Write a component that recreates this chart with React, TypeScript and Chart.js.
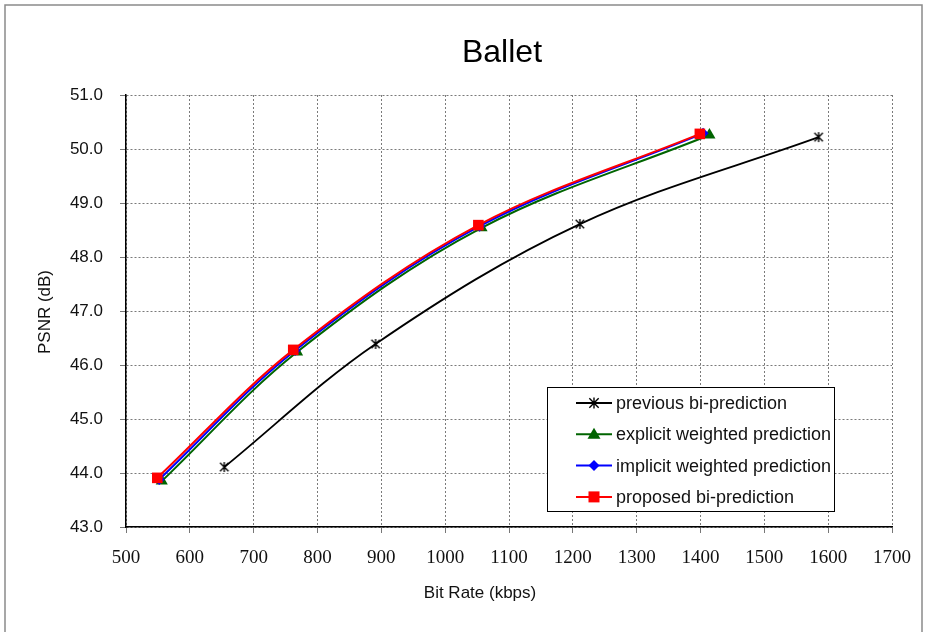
import React, { useEffect, useRef } from "react";
import { Chart, registerables } from "chart.js";

Chart.register(...registerables);

const titleText = "Ballet";
const xTitle = "Bit Rate (kbps)";
const yTitle = "PSNR (dB)";
const xMin = 500;
const xMax = 1700;
const xStep = 100;
const yMin = 43;
const yMax = 51;
const yStep = 1;

const seriesNames = [
  "previous bi-prediction",
  "explicit weighted prediction",
  "implicit weighted prediction",
  "proposed bi-prediction",
];

const previousX = [654, 891, 1211, 1585];
const previousY = [44.11, 46.39, 48.61, 50.22];
const explicitX = [556, 768, 1057, 1414];
const explicitY = [43.85, 46.24, 48.54, 50.26];
const implicitX = [552, 765, 1054, 1404];
const implicitY = [43.88, 46.27, 48.57, 50.29];
const proposedX = [549, 762, 1052, 1399];
const proposedY = [43.91, 46.28, 48.59, 50.28];

const colors = ["#000000", "#006400", "#0000ff", "#ff0000"];
const SANS = "'Liberation Sans', Arial, Helvetica, sans-serif";
const SERIF = "'Liberation Serif', 'Times New Roman', serif";

function makeAsterisk(size: number) {
  const c = document.createElement("canvas");
  c.width = size;
  c.height = size;
  const g = c.getContext("2d")!;
  drawAsterisk(g, size / 2, size / 2, size / 2 - 1);
  return c;
}

function drawAsterisk(g: CanvasRenderingContext2D, x: number, y: number, r: number) {
  g.save();
  g.strokeStyle = "#000";
  g.lineWidth = 1.4;
  const d = r * 0.85;
  g.beginPath();
  g.moveTo(x - d, y - d);
  g.lineTo(x + d, y + d);
  g.moveTo(x + d, y - d);
  g.lineTo(x - d, y + d);
  g.moveTo(x, y - r);
  g.lineTo(x, y + r);
  g.stroke();
  g.restore();
}

function drawMarker(g: CanvasRenderingContext2D, i: number, x: number, y: number) {
  g.save();
  g.fillStyle = colors[i];
  if (i === 0) {
    drawAsterisk(g, x, y, 5.5);
  } else if (i === 1) {
    g.beginPath();
    g.moveTo(x, y - 6.5);
    g.lineTo(x + 6.5, y + 4.5);
    g.lineTo(x - 6.5, y + 4.5);
    g.closePath();
    g.fill();
  } else if (i === 2) {
    g.beginPath();
    g.moveTo(x, y - 5.5);
    g.lineTo(x + 5.5, y);
    g.lineTo(x, y + 5.5);
    g.lineTo(x - 5.5, y);
    g.closePath();
    g.fill();
  } else {
    g.fillRect(x - 5.5, y - 5.5, 11, 11);
  }
  g.restore();
}

const decorPlugin = {
  id: "decor",
  afterDraw(chart: any) {
    const g: CanvasRenderingContext2D = chart.ctx;
    g.save();
    // outer frame
    g.strokeStyle = "#8a8a8a";
    g.lineWidth = 1.5;
    g.strokeRect(5, 5, 917, 640);

    // title
    g.fillStyle = "#000";
    g.font = `32px ${SANS}`;
    g.textAlign = "center";
    g.textBaseline = "alphabetic";
    g.fillText(titleText, 502, 62);

    // axis titles
    g.font = `17px ${SANS}`;
    g.textBaseline = "middle";
    g.fillStyle = "#111";
    g.fillText(xTitle, 480, 593);
    g.save();
    g.translate(45, 312);
    g.rotate(-Math.PI / 2);
    g.fillText(yTitle, 0, 0);
    g.restore();

    // legend
    const lx = 547.5, ly = 387.5, lw = 287, lh = 124;
    g.fillStyle = "#fff";
    g.fillRect(lx, ly, lw, lh);
    g.strokeStyle = "#000";
    g.lineWidth = 1;
    g.strokeRect(lx, ly, lw, lh);
    g.font = `18px ${SANS}`;
    g.textAlign = "left";
    g.textBaseline = "middle";
    for (let i = 0; i < seriesNames.length; i++) {
      const y = 403 + i * 31.3;
      g.strokeStyle = colors[i];
      g.lineWidth = 2;
      g.beginPath();
      g.moveTo(576, y);
      g.lineTo(612, y);
      g.stroke();
      drawMarker(g, i, 594, y);
      g.fillStyle = "#111";
      g.fillText(seriesNames[i], 616, y + 1);
    }
    g.restore();
  },
};

export default function App() {
  const ref = useRef<HTMLCanvasElement>(null);

  useEffect(() => {
    if (!ref.current) return;
    const asterisk = makeAsterisk(12);
    const mk = (xs: number[], ys: number[]) => xs.map((x, i) => ({ x, y: ys[i] }));
    const chart = new Chart(ref.current, {
      type: "line",
      data: {
        datasets: [
          {
            label: seriesNames[0],
            data: mk(previousX, previousY),
            borderColor: colors[0],
            backgroundColor: colors[0],
            borderWidth: 1.8,
            pointStyle: asterisk as any,
            pointRadius: 6,
            tension: 0.35,
            order: 3,
          },
          {
            label: seriesNames[1],
            data: mk(explicitX, explicitY),
            borderColor: colors[1],
            backgroundColor: colors[1],
            borderWidth: 2,
            pointStyle: "triangle",
            pointRadius: 7,
            pointBorderWidth: 0,
            tension: 0.35,
            order: 2,
          },
          {
            label: seriesNames[2],
            data: mk(implicitX, implicitY),
            borderColor: colors[2],
            backgroundColor: colors[2],
            borderWidth: 2,
            pointStyle: "rectRot",
            pointRadius: 5.5,
            pointBorderWidth: 0,
            tension: 0.35,
            order: 1,
          },
          {
            label: seriesNames[3],
            data: mk(proposedX, proposedY),
            borderColor: colors[3],
            backgroundColor: colors[3],
            borderWidth: 2,
            pointStyle: "rect",
            pointRadius: 7.5,
            pointBorderWidth: 0,
            tension: 0.35,
            order: 0,
          },
        ],
      },
      options: {
        responsive: false,
        animation: false,
        devicePixelRatio: 1,
        layout: { padding: { left: 0, right: 33, top: 95, bottom: 0 } },
        plugins: {
          legend: { display: false },
          title: { display: false },
          tooltip: { enabled: false },
        },
        scales: {
          x: {
            type: "linear",
            min: xMin,
            max: xMax,
            afterFit: (s: any) => {
              s.height = 105;
            },
            ticks: {
              stepSize: xStep,
              autoSkip: false,
              maxRotation: 0,
              color: "#111",
              padding: 14,
              font: { family: SERIF, size: 19 },
              callback: (v: any) => String(v),
            },
            grid: { color: "#7a7a7a", lineWidth: 1, tickLength: 6, tickColor: "#777" },
            border: { display: true, color: "#000", width: 1.5, dash: [2, 2] },
          },
          y: {
            type: "linear",
            min: yMin,
            max: yMax,
            afterFit: (s: any) => {
              s.width = 126;
            },
            ticks: {
              stepSize: yStep,
              color: "#111",
              padding: 17,
              font: { family: SANS, size: 17 },
              callback: (v: any) => Number(v).toFixed(1),
            },
            grid: { color: "#7a7a7a", lineWidth: 1, tickLength: 6, tickColor: "#777" },
            border: { display: true, color: "#000", width: 1.5, dash: [2, 2] },
          },
        },
      },
      plugins: [decorPlugin],
    });
    return () => chart.destroy();
  }, []);

  return (
    <div style={{ position: "fixed", left: 0, top: 0, width: 925, height: 632, background: "#fff" }}>
      <canvas ref={ref} width={925} height={632} />
    </div>
  );
}
